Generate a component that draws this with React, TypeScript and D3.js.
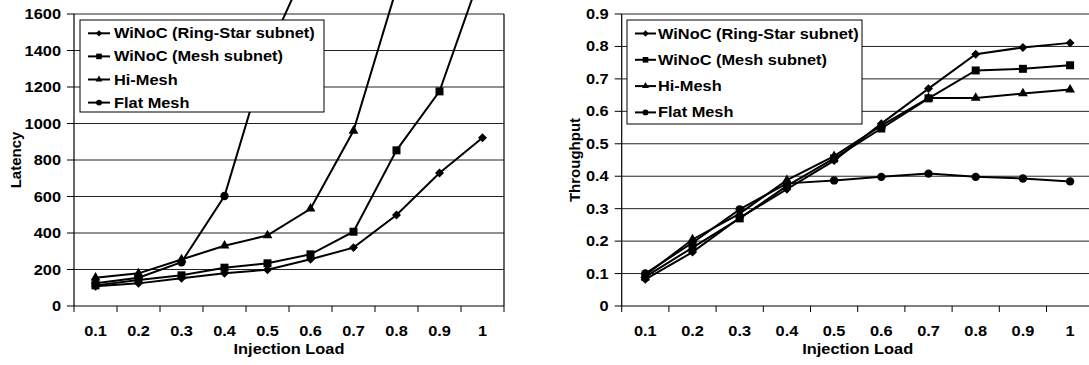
import React from "react";
import * as d3 from "d3";

// Injection load categories
const loads = ["0.1", "0.2", "0.3", "0.4", "0.5", "0.6", "0.7", "0.8", "0.9", "1"];
const seriesNames = ["WiNoC (Ring-Star subnet)", "WiNoC (Mesh subnet)", "Hi-Mesh", "Flat Mesh"];

// Latency (left chart)
const latRingStar = [108, 124, 152, 179, 199, 256, 320, 499, 729, 922];
const latMeshSub = [113, 142, 168, 210, 234, 283, 407, 853, 1176, 1845];
const latHiMesh = [155, 179, 255, 330, 387, 533, 960, 1740, null, null];
const latFlatMesh = [125, 155, 240, 603, 1386, 1905, null, null, null, null];
const latTicks = [0, 200, 400, 600, 800, 1000, 1200, 1400, 1600];

// Throughput (right chart)
const thrRingStar = [0.082, 0.166, 0.272, 0.36, 0.448, 0.562, 0.67, 0.776, 0.797, 0.811];
const thrMeshSub = [0.09, 0.18, 0.27, 0.37, 0.455, 0.547, 0.64, 0.726, 0.731, 0.742];
const thrHiMesh = [0.095, 0.205, 0.285, 0.388, 0.462, 0.556, 0.641, 0.641, 0.655, 0.667];
const thrFlatMesh = [0.1, 0.195, 0.298, 0.378, 0.387, 0.398, 0.408, 0.398, 0.393, 0.384];
const thrTicks = [0, 0.1, 0.2, 0.3, 0.4, 0.5, 0.6, 0.7, 0.8, 0.9];

const FONT = "'Liberation Sans', Arial, sans-serif";
const SX = 1.17; // source image is stretched horizontally

type Shape = "diamond" | "square" | "triangle" | "circle";
const shapes: Shape[] = ["diamond", "square", "triangle", "circle"];

function markerPath(shape: Shape, big: boolean) {
  const k = big ? 1 : 0.7;
  if (shape === "diamond") return d3.symbol(d3.symbolSquare, 40 * k * k)();
  if (shape === "square") return d3.symbol(d3.symbolSquare, 64 * k * k)();
  if (shape === "triangle") return d3.symbol(d3.symbolTriangle, 42 * k * k)();
  return d3.symbol(d3.symbolCircle, 55 * k * k)();
}

function Marker({ shape, x, y, big = true }: { shape: Shape; x: number; y: number; big?: boolean }) {
  const rot = shape === "diamond" ? " rotate(45)" : "";
  return <path d={markerPath(shape, big) || ""} transform={`translate(${x},${y})${rot}`} fill="#000" />;
}

function T({ x, y, anchor = "start", children }: { x: number; y: number; anchor?: string; children: React.ReactNode }) {
  return (
    <text
      transform={`translate(${x},${y}) scale(${SX},1)`}
      textAnchor={anchor}
      fontFamily={FONT}
      fontWeight="bold"
      fontSize={14}
      fill="#000"
    >
      {children}
    </text>
  );
}

interface ChartProps {
  x0: number;
  x1: number;
  top: number;
  bottom: number;
  yMax: number;
  ticks: number[];
  fmt: (v: number) => string;
  series: (number | null)[][];
  yTitle: string;
  yTitleX: number;
  legend: { x: number; y: number; w: number; h: number; row0: number; step: number; lx0: number; lx1: number; tx: number };
}

function Chart(p: ChartProps) {
  const x = d3.scaleBand<string>().domain(loads).range([p.x0, p.x1]).paddingInner(0).paddingOuter(0);
  const y = d3.scaleLinear().domain([0, p.yMax]).range([p.bottom, p.top]);
  const cx = (l: string) => (x(l) ?? 0) + x.bandwidth() / 2;
  const line = d3
    .line<number | null>()
    .defined((d) => d !== null)
    .x((_, i) => cx(loads[i]))
    .y((d) => y(d as number));
  const midY = (p.top + p.bottom) / 2;
  const lg = p.legend;

  return (
    <g>
      {p.ticks.map((t) => (
        <g key={t}>
          {t > 0 && <line x1={p.x0} x2={p.x1} y1={y(t)} y2={y(t)} stroke="#222" strokeWidth={1} />}
          <line x1={p.x0 - 7} x2={p.x0} y1={y(t)} y2={y(t)} stroke="#000" strokeWidth={1} />
          <T x={p.x0 - 13} y={y(t) + 5} anchor="end">
            {p.fmt(t)}
          </T>
        </g>
      ))}
      <line x1={p.x0} x2={p.x0} y1={p.top} y2={p.bottom} stroke="#000" strokeWidth={1.2} />
      <line x1={p.x1} x2={p.x1} y1={p.top} y2={p.bottom} stroke="#000" strokeWidth={1.2} />
      <line x1={p.x0} x2={p.x1} y1={p.bottom} y2={p.bottom} stroke="#000" strokeWidth={1.2} />
      {loads.map((l) => (
        <g key={l}>
          <line x1={x(l)} x2={x(l)} y1={p.bottom} y2={p.bottom + 6} stroke="#000" />
          <T x={cx(l)} y={336} anchor="middle">
            {l}
          </T>
        </g>
      ))}
      <line x1={p.x1} x2={p.x1} y1={p.bottom} y2={p.bottom + 6} stroke="#000" />
      <T x={(p.x0 + p.x1) / 2} y={354} anchor="middle">
        Injection Load
      </T>
      <text
        transform={`translate(${p.yTitleX},${midY}) rotate(-90)`}
        textAnchor="middle"
        fontFamily={FONT}
        fontWeight="bold"
        fontSize={15}
      >
        {p.yTitle}
      </text>

      {p.series.map((s, i) => (
        <path key={i} d={line(s) || ""} fill="none" stroke="#000" strokeWidth={2} />
      ))}
      {p.series.map((s, i) =>
        s.map((v, j) => (v === null ? null : <Marker key={`${i}-${j}`} shape={shapes[i]} x={cx(loads[j])} y={y(v)} />))
      )}

      <rect x={lg.x} y={lg.y} width={lg.w} height={lg.h} fill="#fff" stroke="#000" strokeWidth={1} />
      {seriesNames.map((n, i) => {
        const ry = lg.row0 + i * lg.step;
        return (
          <g key={n}>
            <line x1={lg.lx0} x2={lg.lx1} y1={ry} y2={ry} stroke="#000" strokeWidth={2} />
            <Marker shape={shapes[i]} x={(lg.lx0 + lg.lx1) / 2} y={ry} big={false} />
            <T x={lg.tx} y={ry + 5}>
              {n}
            </T>
          </g>
        );
      })}
    </g>
  );
}

export default function App() {
  return (
    <svg width={1089} height={365} style={{ position: "absolute", left: 0, top: 0, background: "#fff" }}>
      <Chart
        x0={74}
        x1={504}
        top={14}
        bottom={306}
        yMax={1600}
        ticks={latTicks}
        fmt={(v) => d3.format("d")(v)}
        series={[latRingStar, latMeshSub, latHiMesh, latFlatMesh]}
        yTitle="Latency"
        yTitleX={21}
        legend={{ x: 80, y: 20, w: 244, h: 92, row0: 33.3, step: 23.1, lx0: 88, lx1: 110, tx: 114 }}
      />
      <Chart
        x0={621.7}
        x1={1093.7}
        top={14}
        bottom={306}
        yMax={0.9}
        ticks={thrTicks}
        fmt={(v) => (v === 0 ? "0" : d3.format(".1f")(v))}
        series={[thrRingStar, thrMeshSub, thrHiMesh, thrFlatMesh]}
        yTitle="Throughput"
        yTitleX={580}
        legend={{ x: 627, y: 20, w: 235, h: 104, row0: 33.5, step: 26.3, lx0: 635, lx1: 656, tx: 658 }}
      />
    </svg>
  );
}
